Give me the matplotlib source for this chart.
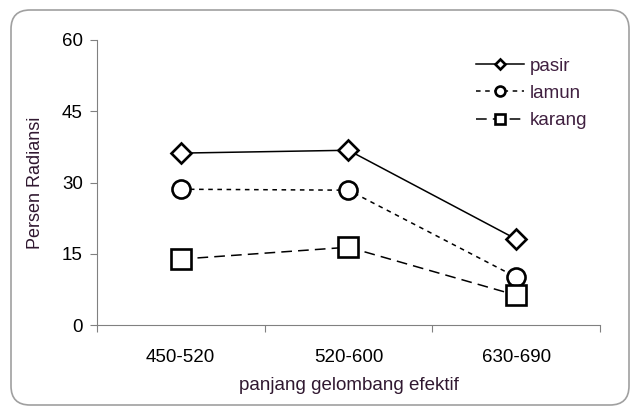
import numpy as np
import matplotlib.pyplot as plt
from matplotlib.patches import FancyBboxPatch

plt.rcParams['font.family'] = ['Liberation Sans', 'DejaVu Sans']

# band labels and radiance percentages per substrate
bands = ['450-520', '520-600', '630-690']
pasir = [36.2, 36.8, 18.1]
lamun = [28.6, 28.4, 10.1]
karang = [13.9, 16.4, 6.3]

fig = plt.figure(figsize=(6.33, 4.08), dpi=100)
ax = fig.add_axes([0.153, 0.203, 0.795, 0.699])

# rounded chart border
frame = FancyBboxPatch((11 / 633, 3 / 408), 618 / 633, 395 / 408,
                       boxstyle='round,pad=0,rounding_size=0.03',
                       transform=fig.transFigure, fill=False,
                       ec='#a0a0a0', lw=1.2, mutation_aspect=633 / 408)
fig.patches.append(frame)

x = np.arange(len(bands)) + 0.5
ax.plot(x, pasir, color='black', lw=1.1, ls='-', marker='D', ms=10,
        mfc='white', mec='black', mew=1.9, label='pasir')
ax.plot(x, lamun, color='black', lw=1.1, ls=(0, (3, 3)), marker='o', ms=13,
        mfc='white', mec='black', mew=1.9, label='lamun')
ax.plot(x, karang, color='black', lw=1.1, ls=(0, (7, 4)), marker='s', ms=14,
        mfc='white', mec='black', mew=1.9, label='karang')

ax.set_xlim(0, 3)
ax.set_ylim(0, 60)
ax.set_yticks([0, 15, 30, 45, 60])
ax.set_xticks([0, 1, 2, 3], minor=False)
ax.set_xticklabels([])
ax.set_xticks(x, minor=True)
ax.set_xticklabels(bands, minor=True)
ax.tick_params(axis='x', which='minor', length=0, pad=17, labelsize=13.5)
ax.tick_params(axis='x', which='major', length=5, direction='out', color='#808080')
ax.tick_params(axis='y', length=5, direction='out', color='#808080', labelsize=13.5, pad=5)

for side in ['top', 'right']:
    ax.spines[side].set_visible(False)
for side in ['left', 'bottom']:
    ax.spines[side].set_color('#808080')

ax.set_xlabel('panjang gelombang efektif', fontsize=13.5, color='#301830', labelpad=8)
ax.set_ylabel('Persen Radiansi', fontsize=13, color='#301830', labelpad=13)

leg = ax.legend(loc='upper right', frameon=False, fontsize=13.5, markerscale=0.55,
                handlelength=2.6, labelspacing=0.55, handletextpad=0.3,
                borderaxespad=0, bbox_to_anchor=(0.99, 0.965))
for t in leg.get_texts():
    t.set_color('#402040')

fig.savefig('out.png', dpi=100)
